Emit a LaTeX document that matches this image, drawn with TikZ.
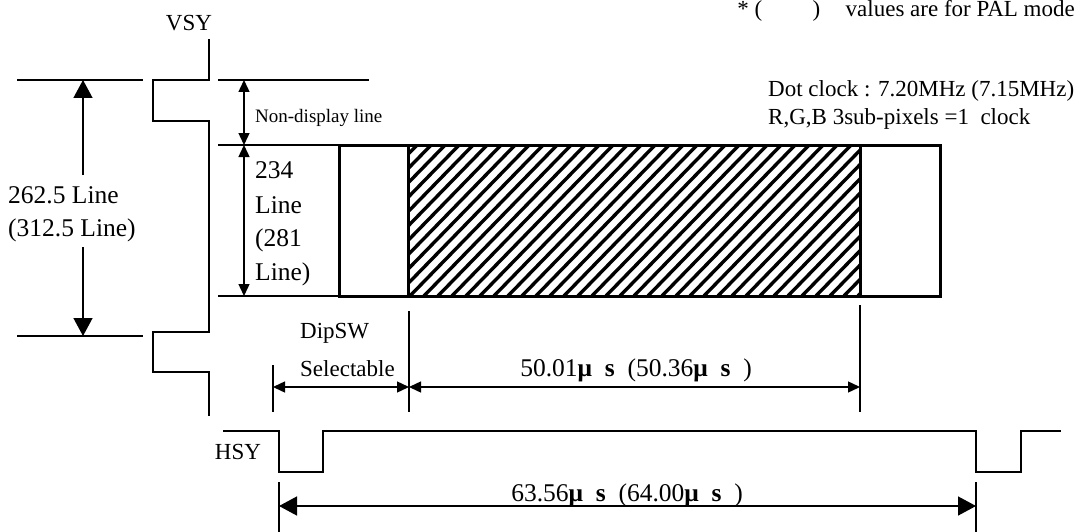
\documentclass[tikz,border=0pt]{standalone}
\usepackage{fontspec}
\setmainfont{Liberation Serif}
\usetikzlibrary{arrows.meta}
\begin{document}
\begin{tikzpicture}[x=1pt,y=-1pt,
  wire/.style={line width=1.4pt},
  boxline/.style={line width=3pt},
  hatchline/.style={line width=3.4pt},
  bigarrow/.style={line width=1.4pt,-{Triangle[length=18pt,width=19pt]}},
  bigdim/.style={line width=1.4pt,{Triangle[length=18pt,width=19pt]}-{Triangle[length=18pt,width=19pt]}},
  smalldim/.style={line width=1.4pt,{Triangle[length=12pt,width=11pt]}-{Triangle[length=12pt,width=11pt]}},
  lbl/.style={inner sep=0pt,font=\fontsize{23}{27}\selectfont},
  biglbl/.style={inner sep=0pt,font=\fontsize{25.5}{29}\selectfont},
  smalllbl/.style={inner sep=0pt,font=\fontsize{19}{23}\selectfont}]
\useasboundingbox (0,0) rectangle (1083,532);

% ---------- VSY signal ----------
\node[lbl] (vsy) at (189,23) {VSY};
\draw[wire] (209,39) -- (209,80) -- (153,80) -- (153,121) -- (209,121) -- (209,332)
  -- (153,332) -- (153,372) -- (209,372) -- (209,416);

% reference lines
\coordinate (lt1) at (17,80);  \coordinate (lt2) at (143,80);
\coordinate (lb1) at (17,336); \coordinate (lb2) at (143,336);
\draw[wire] (lt1) -- (lt2);
\draw[wire] (lb1) -- (lb2);
\coordinate (rt1) at (218,80);  \coordinate (rt2) at (369,80);
\coordinate (rm1) at (218,145); \coordinate (rm2) at (339,145);
\coordinate (rb1) at (218,296); \coordinate (rb2) at (339,296);
\draw[wire] (rt1) -- (rt2);
\draw[wire] (rm1) -- (rm2);
\draw[wire] (rb1) -- (rb2);

% total lines arrow
\node[biglbl,anchor=west] (total1) at (8,195) {262.5 Line};
\node[biglbl,anchor=west] (total2) at (8,230) {(312.5 Line)};
\coordinate (ta) at (83,175);
\coordinate (tb) at (83,247);
\draw[bigarrow] (ta) -- (83,80);
\draw[bigarrow] (tb) -- (83,336);

% non-display / active lines arrows
\coordinate (na) at (244,80);
\coordinate (nb) at (244,145);
\coordinate (nc) at (244,296);
\draw[smalldim] (na) -- (nb);
\draw[smalldim] (nb) -- (nc);
\node[smalllbl,anchor=west] (nondisp) at (255,118) {Non-display line};
\node[biglbl,anchor=west] (l234) at (255,170) {234};
\node[biglbl,anchor=west] (lline) at (255,205) {Line};
\node[biglbl,anchor=west] (l281) at (255,240) {(281};
\node[biglbl,anchor=west] (lline2) at (255,274) {Line)};

% ---------- display area ----------
\begin{scope}
  \clip (408,145) rectangle (860,296);
  \foreach \k in {0,...,46}
    \draw[hatchline] ({252+\k*14},300) -- ({407+\k*14},141);
\end{scope}
\draw[boxline] (339,145) rectangle (940,296);
\draw[boxline] (408,145) -- (408,296);
\draw[boxline] (860,145) -- (860,296);

% ---------- horizontal dimensions ----------
\coordinate (t1a) at (273,365); \coordinate (t1b) at (273,412);
\coordinate (t2a) at (409,311); \coordinate (t2b) at (409,412);
\coordinate (t3a) at (860,305); \coordinate (t3b) at (860,412);
\draw[wire] (t1a) -- (t1b);
\draw[wire] (t2a) -- (t2b);
\draw[wire] (t3a) -- (t3b);
\coordinate (d1) at (273,387);
\coordinate (d2) at (409,387);
\coordinate (d3) at (860,387);
\draw[smalldim] (d1) -- (d2);
\draw[smalldim] (d2) -- (d3);
\node[lbl,anchor=west] (dip) at (300,333) {DipSW};
\node[lbl,anchor=west] (sel) at (300,369) {Selectable};
\node[biglbl] (act) at (636,370) {50.01\textbf{μ\ \ s}\ \ (50.36\textbf{μ\ \ s}\ \ )};

% ---------- HSY signal ----------
\node[lbl] (hsy) at (238,452) {HSY};
\draw[wire] (223,431) -- (279,431) -- (279,472) -- (323,472) -- (323,431) -- (976,431)
  -- (976,472) -- (1021,472) -- (1021,431) -- (1061,431);
\coordinate (t4a) at (279,482); \coordinate (t4b) at (279,532);
\coordinate (t5a) at (976,482); \coordinate (t5b) at (976,532);
\draw[wire] (t4a) -- (t4b);
\draw[wire] (t5a) -- (t5b);
\coordinate (h1) at (279,506);
\coordinate (h2) at (976,506);
\draw[bigdim] (h1) -- (h2);
\node[biglbl] (period) at (627,495) {63.56\textbf{μ\ \ s}\ \ (64.00\textbf{μ\ \ s}\ \ )};

% ---------- notes ----------
\node[lbl,anchor=east] (pal) at (1075,11) {*\ (\hspace{2.2em})\hspace{1.1em}values are for PAL mode};
\node[lbl,anchor=west] (dot) at (768,91) {Dot clock : 7.20MHz (7.15MHz)};
\node[lbl,anchor=west] (rgb) at (768,119) {R,G,B 3sub-pixels =1\ \ clock};
\end{tikzpicture}
\end{document}
